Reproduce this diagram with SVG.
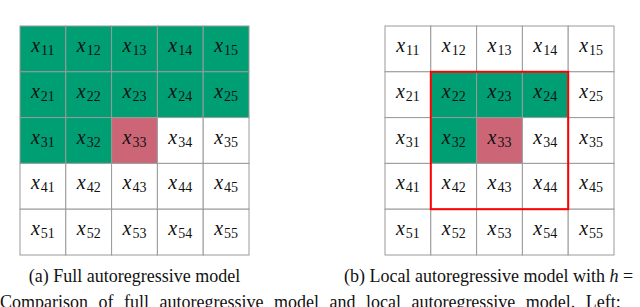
<svg xmlns="http://www.w3.org/2000/svg" width="640" height="307" viewBox="0 0 640 307">
<style>
.c{stroke:#9a9a9a;stroke-width:1}
.w{fill:#ffffff}
.g{fill:#009e73}
.p{fill:#cc6677}
.m{font-family:"Liberation Serif",serif;font-size:20px;font-style:italic;fill:#111;text-anchor:middle}
.s{font-style:normal;font-size:14px}
.cap{font-family:"Liberation Serif",serif;font-size:18px;fill:#111}
</style>
<rect width="640" height="307" fill="#fff"/>
<g id="gridA">
<g id="a11"><rect class="c g" x="20" y="26" width="45.8" height="45.8"/><text class="m" x="42.9" y="52">x<tspan class="s" dx="1" dy="3">11</tspan></text></g>
<g id="a12"><rect class="c g" x="65.8" y="26" width="45.8" height="45.8"/><text class="m" x="88.7" y="52">x<tspan class="s" dx="1" dy="3">12</tspan></text></g>
<g id="a13"><rect class="c g" x="111.6" y="26" width="45.8" height="45.8"/><text class="m" x="134.5" y="52">x<tspan class="s" dx="1" dy="3">13</tspan></text></g>
<g id="a14"><rect class="c g" x="157.4" y="26" width="45.8" height="45.8"/><text class="m" x="180.3" y="52">x<tspan class="s" dx="1" dy="3">14</tspan></text></g>
<g id="a15"><rect class="c g" x="203.2" y="26" width="45.8" height="45.8"/><text class="m" x="226.1" y="52">x<tspan class="s" dx="1" dy="3">15</tspan></text></g>
<g id="a21"><rect class="c g" x="20" y="71.8" width="45.8" height="45.8"/><text class="m" x="42.9" y="97.8">x<tspan class="s" dx="1" dy="3">21</tspan></text></g>
<g id="a22"><rect class="c g" x="65.8" y="71.8" width="45.8" height="45.8"/><text class="m" x="88.7" y="97.8">x<tspan class="s" dx="1" dy="3">22</tspan></text></g>
<g id="a23"><rect class="c g" x="111.6" y="71.8" width="45.8" height="45.8"/><text class="m" x="134.5" y="97.8">x<tspan class="s" dx="1" dy="3">23</tspan></text></g>
<g id="a24"><rect class="c g" x="157.4" y="71.8" width="45.8" height="45.8"/><text class="m" x="180.3" y="97.8">x<tspan class="s" dx="1" dy="3">24</tspan></text></g>
<g id="a25"><rect class="c g" x="203.2" y="71.8" width="45.8" height="45.8"/><text class="m" x="226.1" y="97.8">x<tspan class="s" dx="1" dy="3">25</tspan></text></g>
<g id="a31"><rect class="c g" x="20" y="117.6" width="45.8" height="45.8"/><text class="m" x="42.9" y="143.6">x<tspan class="s" dx="1" dy="3">31</tspan></text></g>
<g id="a32"><rect class="c g" x="65.8" y="117.6" width="45.8" height="45.8"/><text class="m" x="88.7" y="143.6">x<tspan class="s" dx="1" dy="3">32</tspan></text></g>
<g id="a33"><rect class="c p" x="111.6" y="117.6" width="45.8" height="45.8"/><text class="m" x="134.5" y="143.6">x<tspan class="s" dx="1" dy="3">33</tspan></text></g>
<g id="a34"><rect class="c w" x="157.4" y="117.6" width="45.8" height="45.8"/><text class="m" x="180.3" y="143.6">x<tspan class="s" dx="1" dy="3">34</tspan></text></g>
<g id="a35"><rect class="c w" x="203.2" y="117.6" width="45.8" height="45.8"/><text class="m" x="226.1" y="143.6">x<tspan class="s" dx="1" dy="3">35</tspan></text></g>
<g id="a41"><rect class="c w" x="20" y="163.4" width="45.8" height="45.8"/><text class="m" x="42.9" y="189.4">x<tspan class="s" dx="1" dy="3">41</tspan></text></g>
<g id="a42"><rect class="c w" x="65.8" y="163.4" width="45.8" height="45.8"/><text class="m" x="88.7" y="189.4">x<tspan class="s" dx="1" dy="3">42</tspan></text></g>
<g id="a43"><rect class="c w" x="111.6" y="163.4" width="45.8" height="45.8"/><text class="m" x="134.5" y="189.4">x<tspan class="s" dx="1" dy="3">43</tspan></text></g>
<g id="a44"><rect class="c w" x="157.4" y="163.4" width="45.8" height="45.8"/><text class="m" x="180.3" y="189.4">x<tspan class="s" dx="1" dy="3">44</tspan></text></g>
<g id="a45"><rect class="c w" x="203.2" y="163.4" width="45.8" height="45.8"/><text class="m" x="226.1" y="189.4">x<tspan class="s" dx="1" dy="3">45</tspan></text></g>
<g id="a51"><rect class="c w" x="20" y="209.2" width="45.8" height="45.8"/><text class="m" x="42.9" y="235.2">x<tspan class="s" dx="1" dy="3">51</tspan></text></g>
<g id="a52"><rect class="c w" x="65.8" y="209.2" width="45.8" height="45.8"/><text class="m" x="88.7" y="235.2">x<tspan class="s" dx="1" dy="3">52</tspan></text></g>
<g id="a53"><rect class="c w" x="111.6" y="209.2" width="45.8" height="45.8"/><text class="m" x="134.5" y="235.2">x<tspan class="s" dx="1" dy="3">53</tspan></text></g>
<g id="a54"><rect class="c w" x="157.4" y="209.2" width="45.8" height="45.8"/><text class="m" x="180.3" y="235.2">x<tspan class="s" dx="1" dy="3">54</tspan></text></g>
<g id="a55"><rect class="c w" x="203.2" y="209.2" width="45.8" height="45.8"/><text class="m" x="226.1" y="235.2">x<tspan class="s" dx="1" dy="3">55</tspan></text></g>
</g>
<g id="gridB">
<g id="b11"><rect class="c w" x="385" y="26" width="45.8" height="45.8"/><text class="m" x="407.9" y="52">x<tspan class="s" dx="1" dy="3">11</tspan></text></g>
<g id="b12"><rect class="c w" x="430.8" y="26" width="45.8" height="45.8"/><text class="m" x="453.7" y="52">x<tspan class="s" dx="1" dy="3">12</tspan></text></g>
<g id="b13"><rect class="c w" x="476.6" y="26" width="45.8" height="45.8"/><text class="m" x="499.5" y="52">x<tspan class="s" dx="1" dy="3">13</tspan></text></g>
<g id="b14"><rect class="c w" x="522.4" y="26" width="45.8" height="45.8"/><text class="m" x="545.3" y="52">x<tspan class="s" dx="1" dy="3">14</tspan></text></g>
<g id="b15"><rect class="c w" x="568.2" y="26" width="45.8" height="45.8"/><text class="m" x="591.1" y="52">x<tspan class="s" dx="1" dy="3">15</tspan></text></g>
<g id="b21"><rect class="c w" x="385" y="71.8" width="45.8" height="45.8"/><text class="m" x="407.9" y="97.8">x<tspan class="s" dx="1" dy="3">21</tspan></text></g>
<g id="b22"><rect class="c g" x="430.8" y="71.8" width="45.8" height="45.8"/><text class="m" x="453.7" y="97.8">x<tspan class="s" dx="1" dy="3">22</tspan></text></g>
<g id="b23"><rect class="c g" x="476.6" y="71.8" width="45.8" height="45.8"/><text class="m" x="499.5" y="97.8">x<tspan class="s" dx="1" dy="3">23</tspan></text></g>
<g id="b24"><rect class="c g" x="522.4" y="71.8" width="45.8" height="45.8"/><text class="m" x="545.3" y="97.8">x<tspan class="s" dx="1" dy="3">24</tspan></text></g>
<g id="b25"><rect class="c w" x="568.2" y="71.8" width="45.8" height="45.8"/><text class="m" x="591.1" y="97.8">x<tspan class="s" dx="1" dy="3">25</tspan></text></g>
<g id="b31"><rect class="c w" x="385" y="117.6" width="45.8" height="45.8"/><text class="m" x="407.9" y="143.6">x<tspan class="s" dx="1" dy="3">31</tspan></text></g>
<g id="b32"><rect class="c g" x="430.8" y="117.6" width="45.8" height="45.8"/><text class="m" x="453.7" y="143.6">x<tspan class="s" dx="1" dy="3">32</tspan></text></g>
<g id="b33"><rect class="c p" x="476.6" y="117.6" width="45.8" height="45.8"/><text class="m" x="499.5" y="143.6">x<tspan class="s" dx="1" dy="3">33</tspan></text></g>
<g id="b34"><rect class="c w" x="522.4" y="117.6" width="45.8" height="45.8"/><text class="m" x="545.3" y="143.6">x<tspan class="s" dx="1" dy="3">34</tspan></text></g>
<g id="b35"><rect class="c w" x="568.2" y="117.6" width="45.8" height="45.8"/><text class="m" x="591.1" y="143.6">x<tspan class="s" dx="1" dy="3">35</tspan></text></g>
<g id="b41"><rect class="c w" x="385" y="163.4" width="45.8" height="45.8"/><text class="m" x="407.9" y="189.4">x<tspan class="s" dx="1" dy="3">41</tspan></text></g>
<g id="b42"><rect class="c w" x="430.8" y="163.4" width="45.8" height="45.8"/><text class="m" x="453.7" y="189.4">x<tspan class="s" dx="1" dy="3">42</tspan></text></g>
<g id="b43"><rect class="c w" x="476.6" y="163.4" width="45.8" height="45.8"/><text class="m" x="499.5" y="189.4">x<tspan class="s" dx="1" dy="3">43</tspan></text></g>
<g id="b44"><rect class="c w" x="522.4" y="163.4" width="45.8" height="45.8"/><text class="m" x="545.3" y="189.4">x<tspan class="s" dx="1" dy="3">44</tspan></text></g>
<g id="b45"><rect class="c w" x="568.2" y="163.4" width="45.8" height="45.8"/><text class="m" x="591.1" y="189.4">x<tspan class="s" dx="1" dy="3">45</tspan></text></g>
<g id="b51"><rect class="c w" x="385" y="209.2" width="45.8" height="45.8"/><text class="m" x="407.9" y="235.2">x<tspan class="s" dx="1" dy="3">51</tspan></text></g>
<g id="b52"><rect class="c w" x="430.8" y="209.2" width="45.8" height="45.8"/><text class="m" x="453.7" y="235.2">x<tspan class="s" dx="1" dy="3">52</tspan></text></g>
<g id="b53"><rect class="c w" x="476.6" y="209.2" width="45.8" height="45.8"/><text class="m" x="499.5" y="235.2">x<tspan class="s" dx="1" dy="3">53</tspan></text></g>
<g id="b54"><rect class="c w" x="522.4" y="209.2" width="45.8" height="45.8"/><text class="m" x="545.3" y="235.2">x<tspan class="s" dx="1" dy="3">54</tspan></text></g>
<g id="b55"><rect class="c w" x="568.2" y="209.2" width="45.8" height="45.8"/><text class="m" x="591.1" y="235.2">x<tspan class="s" dx="1" dy="3">55</tspan></text></g>
<rect id="window" x="430.8" y="71.8" width="137.4" height="137.4" fill="none" stroke="#ff0000" stroke-width="2"/>
</g>
<g id="connectors"></g>
<text class="cap" x="134.5" y="282" text-anchor="middle">(a) Full autoregressive model</text>
<text class="cap" x="344" y="282">(b) Local autoregressive model with <tspan font-style="italic">h</tspan> =</text>
<text class="cap" x="0" y="308" word-spacing="6">Comparison of full autoregressive model and local autoregressive model. Left:</text>
</svg>
